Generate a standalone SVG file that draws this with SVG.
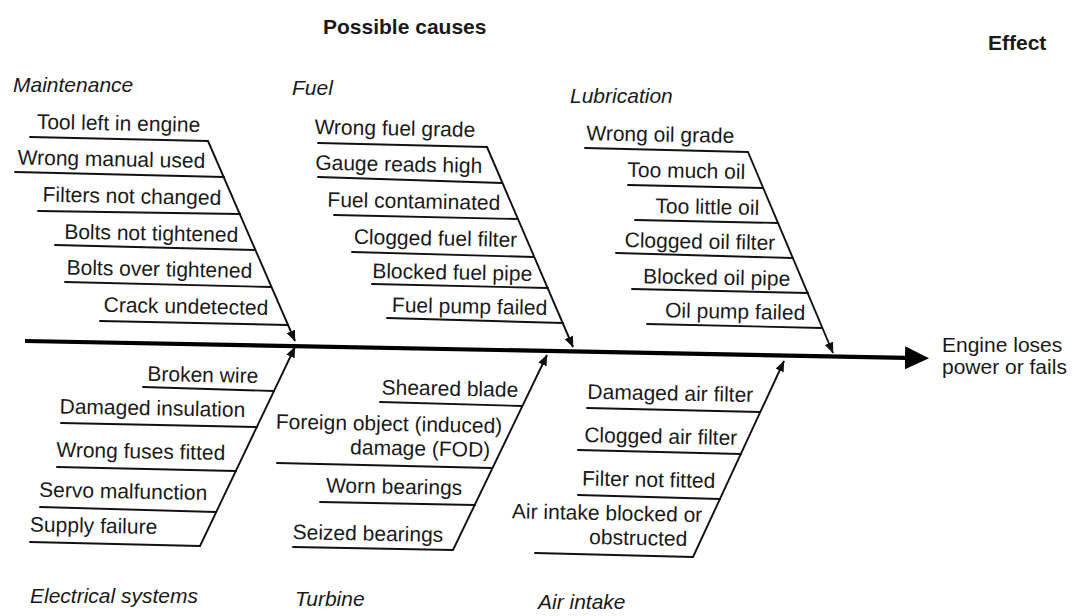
<svg xmlns="http://www.w3.org/2000/svg" width="1074" height="616" viewBox="0 0 1074 616">
  <style>
    text { font-family: "Liberation Sans", Arial, sans-serif; font-size: 21px; fill: #1a1a1a; }
    .c { text-anchor: end; transform-box: fill-box; transform-origin: 100% 100%; transform: rotate(1.1deg); }
    .h { font-style: italic; }
    .b { font-weight: bold; }
    .u { stroke: #111; stroke-width: 1.9; fill: none; stroke-linecap: round; }
    .bone { stroke: #111; stroke-width: 1.9; fill: none; marker-end: url(#tip); }
    .spine { stroke: #000; stroke-width: 4.2; fill: none; marker-end: url(#head); }
  </style>
  <defs>
    <marker id="tip" markerUnits="userSpaceOnUse" markerWidth="12" markerHeight="10" refX="10.5" refY="4.5" orient="auto">
      <path d="M0,0 L11,4.5 L0,9 z" fill="#111"/>
    </marker>
    <marker id="head" markerUnits="userSpaceOnUse" markerWidth="26" markerHeight="24" refX="1" refY="11.5" orient="auto">
      <path d="M0,0 L24,11.5 L0,23 z" fill="#000"/>
    </marker>
  </defs>
  <rect width="1074" height="616" fill="#fff"/>

  <!-- titles -->
  <g id="titles">
    <text class="b" x="323" y="34">Possible causes</text>
    <text class="b" x="988" y="50">Effect</text>
  </g>

  <!-- spine and branch bones -->
  <g id="connectors">
    <path class="spine" d="M25,341 L906,357.8"/>
    <path class="bone" d="M208,141 L295,341"/>
    <path class="bone" d="M487,147 L573,347"/>
    <path class="bone" d="M748,152 L833,353"/>
    <path class="bone" d="M200,546 L295,347"/>
    <path class="bone" d="M453,550 L547,355"/>
    <path class="bone" d="M693,557 L784,361"/>
  </g>

  <!-- effect -->
  <g id="effect">
    <text x="942" y="352">Engine loses</text>
    <text x="942" y="374">power or fails</text>
  </g>

  <!-- Maintenance -->
  <g id="maintenance">
    <text class="h" x="13" y="92">Maintenance</text>
    <g id="m1"><text class="c" x="200" y="132">Tool left in engine</text><path class="u" d="M30,137 L208,141"/></g>
    <g id="m2"><text class="c" x="205" y="168">Wrong manual used</text><path class="u" d="M15,172 L224,177"/></g>
    <g id="m3"><text class="c" x="221" y="205">Filters not changed</text><path class="u" d="M38,211 L240,214"/></g>
    <g id="m4"><text class="c" x="238" y="242">Bolts not tightened</text><path class="u" d="M55,245 L255,250"/></g>
    <g id="m5"><text class="c" x="252" y="278">Bolts over tightened</text><path class="u" d="M65,282 L271,287"/></g>
    <g id="m6"><text class="c" x="268" y="315">Crack undetected</text><path class="u" d="M100,321 L288,325"/></g>
  </g>

  <!-- Fuel -->
  <g id="fuel">
    <text class="h" x="292" y="95">Fuel</text>
    <g id="f1"><text class="c" x="475" y="137">Wrong fuel grade</text><path class="u" d="M318,143 L487,147"/></g>
    <g id="f2"><text class="c" x="482" y="173">Gauge reads high</text><path class="u" d="M318,177 L502,183"/></g>
    <g id="f3"><text class="c" x="500" y="210">Fuel contaminated</text><path class="u" d="M334,215 L518,219"/></g>
    <g id="f4"><text class="c" x="517" y="247">Clogged fuel filter</text><path class="u" d="M352,252 L534,257"/></g>
    <g id="f5"><text class="c" x="532" y="281">Blocked fuel pipe</text><path class="u" d="M372,284 L548,288"/></g>
    <g id="f6"><text class="c" x="547" y="315">Fuel pump failed</text><path class="u" d="M387,318 L563,323"/></g>
  </g>

  <!-- Lubrication -->
  <g id="lubrication">
    <text class="h" x="570" y="103">Lubrication</text>
    <g id="l1"><text class="c" x="734" y="143">Wrong oil grade</text><path class="u" d="M585,148 L748,152"/></g>
    <g id="l2"><text class="c" x="745" y="179">Too much oil</text><path class="u" d="M628,185 L763,188"/></g>
    <g id="l3"><text class="c" x="759" y="215">Too little oil</text><path class="u" d="M635,220 L778,223"/></g>
    <g id="l4"><text class="c" x="775" y="250">Clogged oil filter</text><path class="u" d="M616,253 L793,258"/></g>
    <g id="l5"><text class="c" x="790" y="286">Blocked oil pipe</text><path class="u" d="M632,289 L808,293"/></g>
    <g id="l6"><text class="c" x="805" y="320">Oil pump failed</text><path class="u" d="M647,324 L822,328"/></g>
  </g>

  <!-- Electrical systems -->
  <g id="electrical">
    <text class="h" x="30" y="603">Electrical systems</text>
    <g id="e1"><text class="c" x="258" y="383">Broken wire</text><path class="u" d="M143,387 L274,391"/></g>
    <g id="e2"><text class="c" x="245" y="417">Damaged insulation</text><path class="u" d="M61,423 L257,427"/></g>
    <g id="e3"><text class="c" x="225" y="460">Wrong fuses fitted</text><path class="u" d="M57,467 L236,471"/></g>
    <g id="e4"><text class="c" x="207" y="500">Servo malfunction</text><path class="u" d="M40,507 L216,512"/></g>
    <g id="e5"><text class="c" x="157" y="534">Supply failure</text><path class="u" d="M30,542 L200,546"/></g>
  </g>

  <!-- Turbine -->
  <g id="turbine">
    <text class="h" x="295" y="606">Turbine</text>
    <g id="t1"><text class="c" x="518" y="397">Sheared blade</text><path class="u" d="M380,402 L522,406"/></g>
    <g id="t2">
      <text class="c" x="502" y="433">Foreign object (induced)</text>
      <text class="c" x="490" y="457">damage (FOD)</text>
      <path class="u" d="M277,463 L492,468"/>
    </g>
    <g id="t3"><text class="c" x="462" y="495">Worn bearings</text><path class="u" d="M320,502 L475,505"/></g>
    <g id="t4"><text class="c" x="443" y="542">Seized bearings</text><path class="u" d="M293,547 L453,550"/></g>
  </g>

  <!-- Air intake -->
  <g id="air-intake">
    <text class="h" x="538" y="609">Air intake</text>
    <g id="a1"><text class="c" x="753" y="402">Damaged air filter</text><path class="u" d="M587,408 L760,412"/></g>
    <g id="a2"><text class="c" x="737" y="445">Clogged air filter</text><path class="u" d="M578,450 L741,454"/></g>
    <g id="a3"><text class="c" x="715" y="488">Filter not fitted</text><path class="u" d="M578,495 L720,499"/></g>
    <g id="a4">
      <text class="c" x="702" y="522">Air intake blocked or</text>
      <text class="c" x="687" y="546">obstructed</text>
      <path class="u" d="M535,553 L693,557"/>
    </g>
  </g>
</svg>
